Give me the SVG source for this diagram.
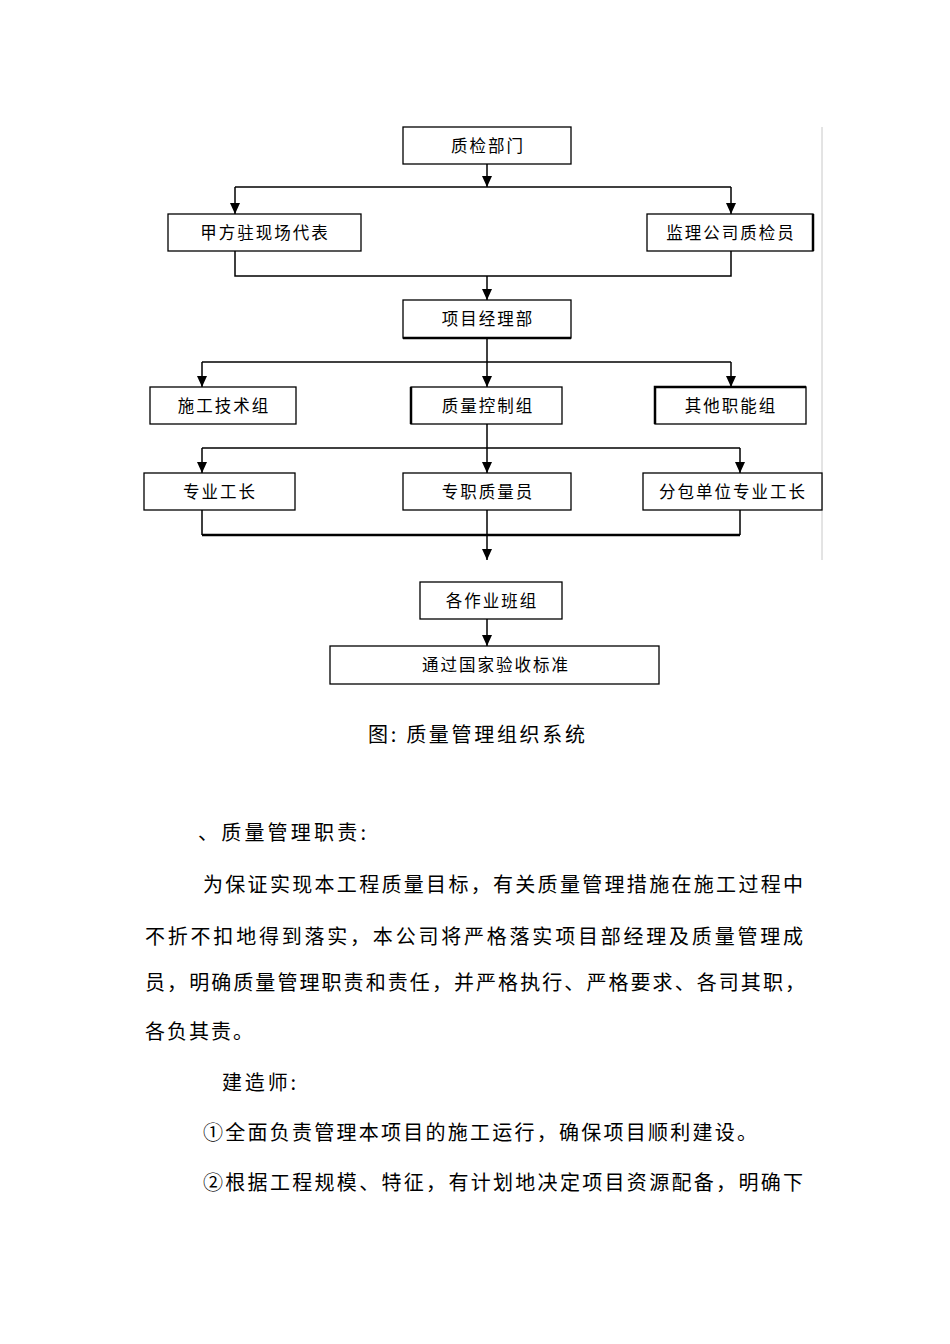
<svg xmlns="http://www.w3.org/2000/svg" width="950" height="1344" viewBox="0 0 950 1344">
<style>
.box{fill:#fff;stroke:#000;stroke-width:1.3}
.bt{font-family:"Noto Sans CJK SC","Noto Sans CJK JP",sans-serif;font-size:16.5px;letter-spacing:2px;text-anchor:middle;fill:#000}
.con{fill:none;stroke:#000;stroke-width:1.5}
.thick{fill:none;stroke:#000;stroke-width:2.5}
.p{font-family:"Noto Sans CJK SC","Noto Sans CJK JP",sans-serif;font-size:20px;fill:#000}
</style>
<defs>
<marker id="arr" markerUnits="userSpaceOnUse" markerWidth="12" markerHeight="10" refX="11" refY="5" orient="auto" viewBox="0 0 12 10">
<path d="M0,0 L11,5 L0,10 Z" fill="#000"/>
</marker>
</defs>
<rect width="950" height="1344" fill="#fff"/>
<line x1="822" y1="127" x2="822" y2="560" stroke="#c8c8c8" stroke-width="1"/>
<g id="connectors">
<path class="con" d="M487,164 V187" marker-end="url(#arr)"/>
<path class="con" d="M235,187 H731"/>
<path class="con" d="M235,187 V214" marker-end="url(#arr)"/>
<path class="con" d="M731,187 V214" marker-end="url(#arr)"/>
<path class="con" d="M235,251 V276 H731 V251"/>
<path class="con" d="M487,276 V300" marker-end="url(#arr)"/>
<path class="con" d="M487,338 V387" marker-end="url(#arr)"/>
<path class="con" d="M202,362 H731"/>
<path class="con" d="M202,362 V387" marker-end="url(#arr)"/>
<path class="con" d="M731,362 V387" marker-end="url(#arr)"/>
<path class="con" d="M487,424 V473" marker-end="url(#arr)"/>
<path class="con" d="M202,448 H740"/>
<path class="con" d="M202,448 V473" marker-end="url(#arr)"/>
<path class="con" d="M740,448 V473" marker-end="url(#arr)"/>
<path class="con" d="M202,510 V535 M740,510 V535"/>
<path class="thick" d="M202,535 H740"/>
<path class="con" d="M487,510 V560" marker-end="url(#arr)"/>
<path class="con" d="M487,619 V646" marker-end="url(#arr)"/>
</g>
<g id="n1"><rect class="box" x="403" y="127" width="168" height="37"/><text class="bt" x="488" y="152">质检部门</text></g>
<g id="n2"><rect class="box" x="168" y="214" width="193" height="37"/><text class="bt" x="265" y="239">甲方驻现场代表</text></g>
<g id="n3"><rect class="box" x="647" y="214" width="166" height="37"/><line x1="813" y1="214" x2="813" y2="251" stroke="#000" stroke-width="2.5"/><text class="bt" x="731" y="239">监理公司质检员</text></g>
<g id="n4"><rect class="box" x="403" y="300" width="168" height="38"/><line x1="403" y1="338" x2="571" y2="338" stroke="#000" stroke-width="2.5"/><text class="bt" x="488" y="325">项目经理部</text></g>
<g id="n5"><rect class="box" x="150" y="387" width="146" height="37"/><text class="bt" x="224" y="412">施工技术组</text></g>
<g id="n6"><rect class="box" x="411" y="387" width="151" height="37"/><line x1="411" y1="387" x2="411" y2="424" stroke="#000" stroke-width="2.5"/><text class="bt" x="488" y="412">质量控制组</text></g>
<g id="n7"><rect class="box" x="655" y="387" width="151" height="37"/><path d="M655,424 V387 H806" fill="none" stroke="#000" stroke-width="2.5"/><text class="bt" x="731" y="412">其他职能组</text></g>
<g id="n8"><rect class="box" x="144" y="473" width="151" height="37"/><text class="bt" x="220" y="498">专业工长</text></g>
<g id="n9"><rect class="box" x="403" y="473" width="168" height="37"/><text class="bt" x="488" y="498">专职质量员</text></g>
<g id="n10"><rect class="box" x="643" y="473" width="179" height="37"/><text class="bt" x="733" y="498">分包单位专业工长</text></g>
<g id="n11"><rect class="box" x="420" y="582" width="142" height="37"/><text class="bt" x="492" y="607">各作业班组</text></g>
<g id="n12"><rect class="box" x="330" y="646" width="329" height="38"/><text class="bt" x="496" y="671">通过国家验收标准</text></g>
<g id="text">
<text class="p" x="368" y="742" textLength="217" lengthAdjust="spacing">图: 质量管理组织系统</text>
<text class="p" x="198" y="840" textLength="168" lengthAdjust="spacing">、质量管理职责:</text>
<text class="p" x="203" y="892" textLength="600" lengthAdjust="spacing">为保证实现本工程质量目标，有关质量管理措施在施工过程中</text>
<text class="p" x="145" y="944" textLength="658" lengthAdjust="spacing">不折不扣地得到落实，本公司将严格落实项目部经理及质量管理成</text>
<text class="p" x="145" y="990" textLength="660" lengthAdjust="spacing">员，明确质量管理职责和责任，并严格执行、严格要求、各司其职，</text>
<text class="p" x="145" y="1039" textLength="108" lengthAdjust="spacing">各负其责。</text>
<text class="p" x="222" y="1090" textLength="74" lengthAdjust="spacing">建造师:</text>
<text class="p" x="203" y="1140" textLength="554" lengthAdjust="spacing">①全面负责管理本项目的施工运行，确保项目顺利建设。</text>
<text class="p" x="203" y="1190" textLength="600" lengthAdjust="spacing">②根据工程规模、特征，有计划地决定项目资源配备，明确下</text>
</g>
</svg>
